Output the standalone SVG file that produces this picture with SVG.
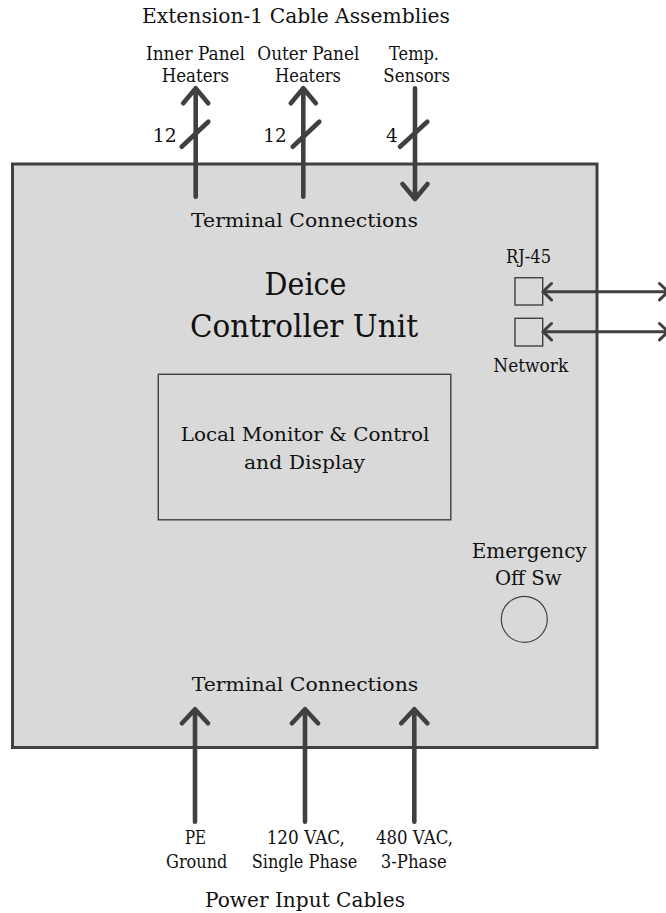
<svg xmlns="http://www.w3.org/2000/svg" width="666" height="913" viewBox="0 0 666 913">
<style>
text{font-family:"DejaVu Serif","Liberation Serif",serif;fill:#111;text-anchor:middle}
.s17{font-size:18px}
.s18{font-size:19px}
.s19{font-size:20px}
.big{font-size:32px}
.thick{stroke:#404040;stroke-width:4.6;fill:none;stroke-linecap:round;stroke-linejoin:round}
.thin{stroke:#404040;stroke-width:3;fill:none;stroke-linecap:round;stroke-linejoin:round}
.box{stroke:#404040;stroke-width:1.4;fill:none}
</style>
<rect x="0" y="0" width="666" height="913" fill="#ffffff"/>

<g id="unit">
<rect x="12.5" y="164" width="584.5" height="583.5" fill="#d9d9d9" stroke="#404040" stroke-width="3"/>
<text class="s18" x="304.5" y="226.7" textLength="227" lengthAdjust="spacingAndGlyphs">Terminal Connections</text>
<text class="big" x="305.5" y="295" textLength="82" lengthAdjust="spacingAndGlyphs">Deice</text>
<text class="big" x="304" y="337" textLength="228" lengthAdjust="spacingAndGlyphs">Controller Unit</text>
<text class="s18" x="305" y="690.7" textLength="226.6" lengthAdjust="spacingAndGlyphs">Terminal Connections</text>
</g>

<g id="local-monitor">
<rect class="box" x="158.3" y="374.3" width="292.5" height="145.5"/>
<text class="s18" x="305" y="440.7" textLength="248.6" lengthAdjust="spacingAndGlyphs">Local Monitor &amp; Control</text>
<text class="s18" x="304.5" y="469" textLength="121" lengthAdjust="spacingAndGlyphs">and Display</text>
</g>

<g id="rj45">
<text class="s17" x="528.5" y="262.7" textLength="45" lengthAdjust="spacingAndGlyphs">RJ-45</text>
<rect class="box" x="515" y="277.7" width="27.7" height="27.3"/>
<rect class="box" x="515" y="318.3" width="27.7" height="27.7"/>
<text class="s17" x="530.8" y="371.7" textLength="75" lengthAdjust="spacingAndGlyphs">Network</text>
</g>

<g id="emergency-off">
<text class="s19" x="529.2" y="557.7" textLength="115" lengthAdjust="spacingAndGlyphs">Emergency</text>
<text class="s19" x="528.3" y="585" textLength="66.7" lengthAdjust="spacingAndGlyphs">Off Sw</text>
<circle cx="524.3" cy="619.3" r="23" fill="none" stroke="#404040" stroke-width="1.2"/>
</g>

<g id="top-labels">
<text class="s19" x="296" y="23" textLength="308" lengthAdjust="spacingAndGlyphs">Extension-1 Cable Assemblies</text>
<text class="s17" x="195.5" y="59.5" textLength="99" lengthAdjust="spacingAndGlyphs">Inner Panel</text>
<text class="s17" x="195.4" y="81.7" textLength="67.3" lengthAdjust="spacingAndGlyphs">Heaters</text>
<text class="s17" x="308.3" y="59.5" textLength="102" lengthAdjust="spacingAndGlyphs">Outer Panel</text>
<text class="s17" x="308" y="81.7" textLength="66" lengthAdjust="spacingAndGlyphs">Heaters</text>
<text class="s17" x="414" y="59.5" textLength="50" lengthAdjust="spacingAndGlyphs">Temp.</text>
<text class="s17" x="416.7" y="81.7" textLength="66.7" lengthAdjust="spacingAndGlyphs">Sensors</text>
<text class="s18" x="164.7" y="141.7" textLength="24" lengthAdjust="spacingAndGlyphs">12</text>
<text class="s18" x="275" y="141.7" textLength="23.4" lengthAdjust="spacingAndGlyphs">12</text>
<text class="s18" x="391.8" y="141.7" textLength="11.7" lengthAdjust="spacingAndGlyphs">4</text>
</g>

<g id="bottom-labels">
<text class="s17" x="195.5" y="844" textLength="21" lengthAdjust="spacingAndGlyphs">PE</text>
<text class="s17" x="196.7" y="868.3" textLength="61.3" lengthAdjust="spacingAndGlyphs">Ground</text>
<text class="s17" x="305.8" y="844" textLength="78.3" lengthAdjust="spacingAndGlyphs">120 VAC,</text>
<text class="s17" x="304.5" y="868.3" textLength="105.6" lengthAdjust="spacingAndGlyphs">Single Phase</text>
<text class="s17" x="414.5" y="844" textLength="77" lengthAdjust="spacingAndGlyphs">480 VAC,</text>
<text class="s17" x="413.7" y="868.3" textLength="66" lengthAdjust="spacingAndGlyphs">3-Phase</text>
<text class="s19" x="305" y="906.7" textLength="200" lengthAdjust="spacingAndGlyphs">Power Input Cables</text>
</g>

<g id="connectors">
<path class="thick" d="M195.7 196.7V88.3M183.2 103.3L195.7 88.3L208.2 103.3"/>
<path class="thick" d="M181.7 146.7L208.3 121.7"/>
<path class="thick" d="M303.3 196.7V88.3M290.8 103.3L303.3 88.3L315.8 103.3"/>
<path class="thick" d="M292.7 146.7L319.3 121.7"/>
<path class="thick" d="M415 88.3V199M402.5 184L415 199L427.5 184"/>
<path class="thick" d="M400 146.7L427.3 121.7"/>
<path class="thin" d="M543 291.7H668M551.5 283.5L543 291.7L551.5 299.9M659.5 283.5L668 291.7L659.5 299.9"/>
<path class="thin" d="M543 331.7H668M551.5 323.5L543 331.7L551.5 339.9M659.5 323.5L668 331.7L659.5 339.9"/>
<path class="thick" d="M195 821.7V709.3M182 723.3L195 709.3L208 723.3"/>
<path class="thick" d="M305 821.7V709.3M292 723.3L305 709.3L318 723.3"/>
<path class="thick" d="M414.3 821.7V709.3M401.3 723.3L414.3 709.3L427.3 723.3"/>
</g>
</svg>
